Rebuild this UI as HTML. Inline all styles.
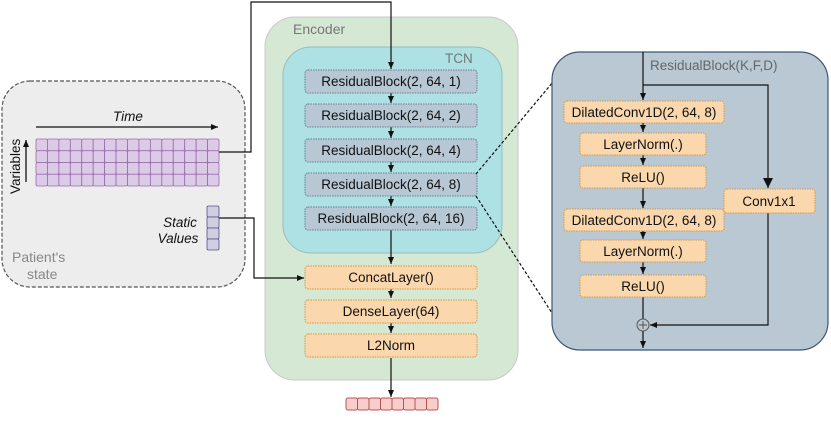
<!DOCTYPE html>
<html><head><meta charset="utf-8"><style>
html,body{margin:0;padding:0;background:#fff;}
svg text{font-family:"Liberation Sans",sans-serif;}
</style></head><body>
<svg width="831" height="416" viewBox="0 0 831 416" xmlns="http://www.w3.org/2000/svg">
<defs>
<marker id="ar" markerWidth="8" markerHeight="8" refX="7" refY="4" orient="auto" markerUnits="userSpaceOnUse">
<path d="M0,1 L7,4 L0,7 Z" fill="#111"/></marker>
<marker id="arb" markerWidth="12" markerHeight="12" refX="10" refY="5" orient="auto" markerUnits="userSpaceOnUse">
<path d="M0,0 L10,5 L0,10 Z" fill="#111"/></marker>
</defs>

<!-- Patient state -->
<rect x="2" y="81" width="243" height="206" rx="28" fill="#ededed" stroke="#555" stroke-width="1.2" stroke-dasharray="4,2"/>
<text x="12" y="262" font-size="14" fill="#888">Patient's</text>
<text x="27" y="279" font-size="14" fill="#888">state</text>
<line x1="36" y1="127" x2="218" y2="127" stroke="#111" stroke-width="1.3" marker-end="url(#ar)"/>
<text x="128" y="121" font-size="13.5" font-style="italic" text-anchor="middle" fill="#111">Time</text>
<line x1="26" y1="182" x2="26" y2="140" stroke="#111" stroke-width="1.3" marker-end="url(#ar)"/>
<text x="0" y="0" font-size="13.5" fill="#111" transform="translate(20,194) rotate(-90)">Variables</text>
<g id="grid" fill="#dccbe6" stroke="#9a6aae" stroke-width="0.8">
</g>
<text x="180" y="227" font-size="13.5" font-style="italic" text-anchor="middle" fill="#111">Static</text>
<text x="178" y="243" font-size="13.5" font-style="italic" text-anchor="middle" fill="#111">Values</text>

<!-- Encoder -->
<rect x="265" y="17" width="253" height="363" rx="30" fill="#d5e8d4" stroke="#c9c9c9" stroke-width="1"/>
<text x="293" y="34" font-size="14" fill="#777">Encoder</text>
<rect x="283" y="47" width="219" height="206" rx="28" fill="#ade1e3" stroke="#9bb" stroke-width="1"/>
<text x="445" y="63" font-size="13.5" fill="#777">TCN</text>

<!-- connectors -->
<polyline points="219,152 251,152 251,2 391,2 391,69" fill="none" stroke="#111" stroke-width="1.2" marker-end="url(#ar)"/>
<polyline points="219,218 254,218 254,278 304,278" fill="none" stroke="#111" stroke-width="1.2" marker-end="url(#ar)"/>
<g stroke="#111" stroke-width="1.2" marker-end="url(#ar)">
<line x1="391" y1="93" x2="391" y2="103"/>
<line x1="391" y1="127" x2="391" y2="138"/>
<line x1="391" y1="162" x2="391" y2="172"/>
<line x1="391" y1="196" x2="391" y2="206"/>
<line x1="391" y1="230" x2="391" y2="264"/>
<line x1="391" y1="289" x2="391" y2="298"/>
<line x1="391" y1="323" x2="391" y2="333"/>
<line x1="391" y1="358" x2="391" y2="397"/>
</g>

<g font-size="13.5" text-anchor="middle" fill="#111">
<g fill="#b7c7d4" stroke="#6a7f94" stroke-width="1" stroke-dasharray="1.5,1">
<rect x="305" y="70" width="172" height="23" rx="3"/>
<rect x="305" y="104" width="172" height="23" rx="3"/>
<rect x="305" y="139" width="172" height="23" rx="3"/>
<rect x="305" y="173" width="172" height="23" rx="3"/>
<rect x="305" y="207" width="172" height="23" rx="3"/>
</g>
<text x="391" y="86">ResidualBlock(2, 64, 1)</text>
<text x="391" y="120">ResidualBlock(2, 64, 2)</text>
<text x="391" y="155">ResidualBlock(2, 64, 4)</text>
<text x="391" y="189">ResidualBlock(2, 64, 8)</text>
<text x="391" y="223">ResidualBlock(2, 64, 16)</text>
<g fill="#fad7ac" stroke="#d09a4c" stroke-width="1" stroke-dasharray="1.5,1">
<rect x="305" y="266" width="172" height="23" rx="3"/>
<rect x="305" y="300" width="172" height="23" rx="3"/>
<rect x="305" y="334" width="172" height="23" rx="3"/>
</g>
<text x="391" y="282">ConcatLayer()</text>
<text x="391" y="316">DenseLayer(64)</text>
<text x="391" y="350">L2Norm</text>
</g>

<g fill="#f8cecc" stroke="#b85450" stroke-width="1">
<rect x="346" y="398" width="11.5" height="12" rx="2"/>
<rect x="357.5" y="398" width="11.5" height="12" rx="2"/>
<rect x="369" y="398" width="11.5" height="12" rx="2"/>
<rect x="380.5" y="398" width="11.5" height="12" rx="2"/>
<rect x="392" y="398" width="11.5" height="12" rx="2"/>
<rect x="403.5" y="398" width="11.5" height="12" rx="2"/>
<rect x="415" y="398" width="11.5" height="12" rx="2"/>
<rect x="426.5" y="398" width="11.5" height="12" rx="2"/>
</g>

<!-- zoom dashed lines -->
<line x1="476" y1="174" x2="553" y2="82" stroke="#111" stroke-width="1.2" stroke-dasharray="3,2"/>
<line x1="476" y1="196" x2="552" y2="313" stroke="#111" stroke-width="1.2" stroke-dasharray="3,2"/>

<!-- Right panel -->
<rect x="552" y="52" width="276" height="298" rx="28" fill="#bac8d3" stroke="#3b5777" stroke-width="1.2"/>
<text x="650" y="70" font-size="13.5" fill="#666">ResidualBlock(K,F,D)</text>
<g stroke="#111" stroke-width="1.2" fill="none">
<line x1="643" y1="52" x2="643" y2="100" marker-end="url(#ar)"/>
<polyline points="643,85 768,85 768,188" marker-end="url(#arb)"/>
<line x1="643" y1="122" x2="643" y2="132" marker-end="url(#ar)"/>
<line x1="643" y1="155" x2="643" y2="165" marker-end="url(#ar)"/>
<line x1="643" y1="188" x2="643" y2="208" marker-end="url(#ar)"/>
<line x1="643" y1="231" x2="643" y2="239" marker-end="url(#ar)"/>
<line x1="643" y1="262" x2="643" y2="274" marker-end="url(#ar)"/>
<line x1="643" y1="297" x2="643" y2="319"/>
<polyline points="768,213 768,325 650,325" marker-end="url(#ar)"/>
<line x1="643" y1="331" x2="643" y2="348" marker-end="url(#ar)"/>
</g>
<circle cx="643" cy="325" r="6" fill="#bac8d3" stroke="#555" stroke-width="1"/>
<line x1="639" y1="325" x2="647" y2="325" stroke="#555"/>
<line x1="643" y1="321" x2="643" y2="329" stroke="#555"/>
<g fill="#fad7ac" stroke="#d09a4c" stroke-width="1" stroke-dasharray="1.5,1">
<rect x="564" y="101" width="160" height="22" rx="3"/>
<rect x="580" y="133" width="126" height="22" rx="3"/>
<rect x="580" y="166" width="126" height="22" rx="3"/>
<rect x="564" y="209" width="160" height="22" rx="3"/>
<rect x="580" y="240" width="126" height="22" rx="3"/>
<rect x="580" y="275" width="126" height="22" rx="3"/>
<rect x="724" y="189" width="91" height="24" rx="3"/>
</g>
<g font-size="13.5" text-anchor="middle" fill="#111">
<text x="644" y="117">DilatedConv1D(2, 64, 8)</text>
<text x="643" y="149">LayerNorm(.)</text>
<text x="643" y="182">ReLU()</text>
<text x="644" y="225">DilatedConv1D(2, 64, 8)</text>
<text x="643" y="256">LayerNorm(.)</text>
<text x="643" y="291">ReLU()</text>
<text x="769" y="206">Conv1x1</text>
</g>
</svg>
<script>
var g=document.getElementById('grid'),ns='http://www.w3.org/2000/svg';
var w=183/16,h=47/4;
for(var r=0;r<4;r++)for(var c=0;c<16;c++){var e=document.createElementNS(ns,'rect');
e.setAttribute('x',36+c*w);e.setAttribute('y',139+r*h);e.setAttribute('width',w);e.setAttribute('height',h);e.setAttribute('rx',1.5);g.appendChild(e);}
for(var r=0;r<4;r++){var e=document.createElementNS(ns,'rect');
e.setAttribute('x',207);e.setAttribute('y',206+r*11);e.setAttribute('width',12);e.setAttribute('height',11);e.setAttribute('rx',1.5);
e.setAttribute('fill','#d0cee2');e.setAttribute('stroke','#56517e');g.appendChild(e);}
</script>
</body></html>
